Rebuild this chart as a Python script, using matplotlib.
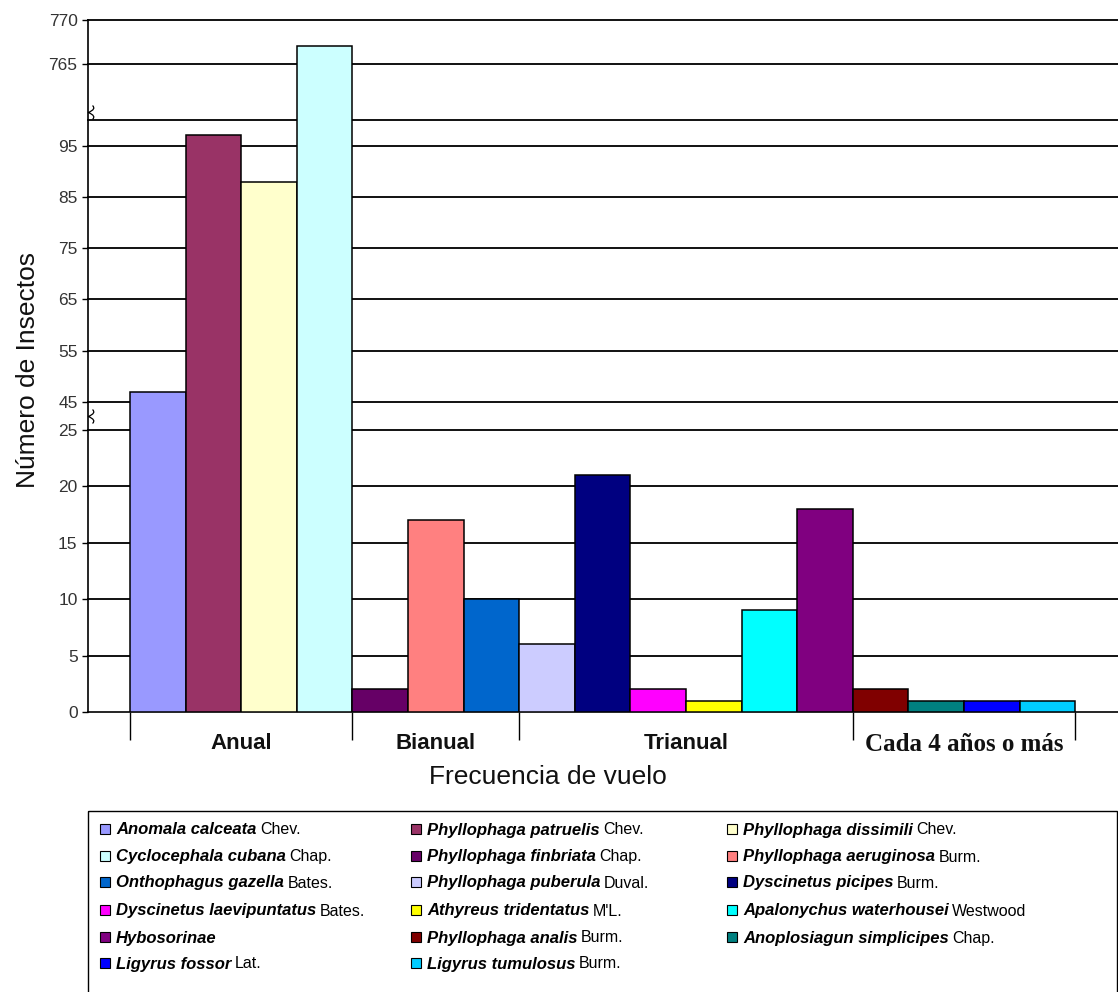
import numpy as np
import matplotlib.pyplot as plt
from matplotlib.patches import Rectangle
from matplotlib.path import Path

# Datos: insectos por frecuencia de vuelo
species = ['Anomala calceata', 'Phyllophaga patruelis', 'Phyllophaga dissimili',
           'Cyclocephala cubana', 'Phyllophaga finbriata', 'Phyllophaga aeruginosa',
           'Onthophagus gazella', 'Phyllophaga puberula', 'Dyscinetus picipes',
           'Dyscinetus laevipuntatus', 'Athyreus tridentatus', 'Apalonychus waterhousei',
           'Hybosorinae', 'Phyllophaga analis', 'Anoplosiagun simplicipes',
           'Ligyrus fossor', 'Ligyrus tumulosus']
authors = ['Chev.', 'Chev.', 'Chev.', 'Chap.', 'Chap.', 'Burm.', 'Bates.', 'Duval.',
           'Burm.', 'Bates.', "M'L.", 'Westwood', '', 'Burm.', 'Chap.', 'Lat.', 'Burm.']
counts = [47, 97, 88, 767, 2, 17, 10, 6, 21, 2, 1, 9, 18, 2, 1, 1, 1]
colors = ['#9999FF', '#993366', '#FFFFCC', '#CCFFFF', '#660066', '#FF8080',
          '#0066CC', '#CCCCFF', '#000080', '#FF00FF', '#FFFF00', '#00FFFF',
          '#800080', '#800000', '#008080', '#0000FF', '#00CCFF']
groups = ['Anual', 'Bianual', 'Trianual', 'Cada 4 años o más']
group_sizes = [4, 3, 6, 4]

y_ticks = [0, 5, 10, 15, 20, 25, 45, 55, 65, 75, 85, 95, 765, 770]
grid_levels = [5, 10, 15, 20, 25, 45, 55, 65, 75, 85, 95, 100, 765, 770]

# eje Y cortado: escala lineal por tramos
seg_vals = np.array([-1000, 0, 25, 45, 100, 765, 770, 10000])
seg_pos = np.array([-11280, 0, 282, 310, 592, 648, 692, 692 + 9230 * 8.8])


def forward(v):
    return np.interp(v, seg_vals, seg_pos)


def inverse(p):
    return np.interp(p, seg_pos, seg_vals)


W, H = 1118, 992
fig = plt.figure(figsize=(W / 100, H / 100), dpi=100)
ax = fig.add_axes([88 / W, (H - 712) / H, (W - 88) / W, 692 / H])
ax.set_yscale('function', functions=(forward, inverse))

x = np.arange(len(counts)) + 0.5
ax.bar(x, counts, width=1.0, color=colors, edgecolor='black', linewidth=1.1, zorder=3)

for lev in grid_levels:
    ax.axhline(lev, color='#111111', linewidth=1.4, zorder=1, clip_on=False)

ax.set_ylim(0, 770)
ax.set_xlim(-0.755, len(counts) + 0.77)

ax.set_yticks(y_ticks)
ax.set_yticklabels([str(t) for t in y_ticks], fontsize=12.5, family='Liberation Sans', color='#333333')
ax.tick_params(axis='y', length=4.5, width=1, pad=3)

bounds = np.cumsum([0] + group_sizes)
ax.set_xticks(bounds)
ax.set_xticklabels([''] * len(bounds))
ax.tick_params(axis='x', which='major', length=20, width=1, direction='out')
centers = (bounds[:-1] + bounds[1:]) / 2
ax.set_xticks(centers, minor=True)
ax.set_xticklabels(groups, minor=True)
ax.tick_params(axis='x', which='minor', length=0, pad=15)
label_fonts = [('Liberation Sans', 16), ('Liberation Sans', 16),
               ('Liberation Sans', 16), ('Liberation Serif', 18)]
for lbl, (fam, fs) in zip(ax.get_xticklabels(minor=True), label_fonts):
    lbl.set_family(fam)
    lbl.set_fontsize(fs)
    lbl.set_fontweight('bold')
    lbl.set_color('#111111')

for side in ['top', 'right']:
    ax.spines[side].set_visible(False)
ax.spines['left'].set_linewidth(1.2)
ax.spines['bottom'].set_linewidth(1.2)

# marcas de corte en el eje
sq = Path([(0, -1), (0.6, -0.5), (-0.6, 0.0), (0.6, 0.5), (0, 1)],
          [Path.MOVETO, Path.CURVE3, Path.CURVE3, Path.CURVE3, Path.CURVE3])
for yb in [35, 200]:
    ax.plot([0.004], [yb], transform=ax.get_yaxis_transform(), marker=sq,
            markersize=10, markerfacecolor='none', markeredgecolor='black',
            markeredgewidth=0.9, clip_on=False, zorder=5)

fig.text(28 / W, 1 - 370 / H, 'Número de Insectos', rotation=90, ha='center', va='center',
         fontsize=19, family='Liberation Sans', color='#111111')
fig.text(548 / W, 1 - 777 / H, 'Frecuencia de vuelo', ha='center', va='center',
         fontsize=19, family='Liberation Sans', color='#111111')

# leyenda dibujada a mano (nombre en negrita cursiva + autor)
lax = fig.add_axes([0, 0, 1, 1])
lax.set_xlim(0, W)
lax.set_ylim(H, 0)
lax.axis('off')
lax.add_patch(Rectangle((88, 811), 1029, 200, facecolor='none', edgecolor='black',
                        linewidth=1.0, clip_on=False))
col_x = [100, 411, 727]
row_y = [829, 856, 882, 910, 937, 963]
for i, (name, auth, c) in enumerate(zip(species, authors, colors)):
    r, k = divmod(i, 3)
    x0, y0 = col_x[k], row_y[r]
    lax.add_patch(Rectangle((x0, y0 - 5), 10, 10, facecolor=c, edgecolor='black', linewidth=0.8))
    t = lax.text(x0 + 16, y0 + 5.5, name, fontsize=12, fontweight='bold', fontstyle='italic',
                 family='Liberation Sans', va='baseline', ha='left')
    if auth:
        lax.annotate(auth, xy=(1, y0 + 5.5), xycoords=(t, 'data'), xytext=(2.5, 0),
                     textcoords='offset points', va='baseline', ha='left',
                     fontsize=11.5, family='Liberation Sans')

fig.savefig('out.png', dpi=100)
